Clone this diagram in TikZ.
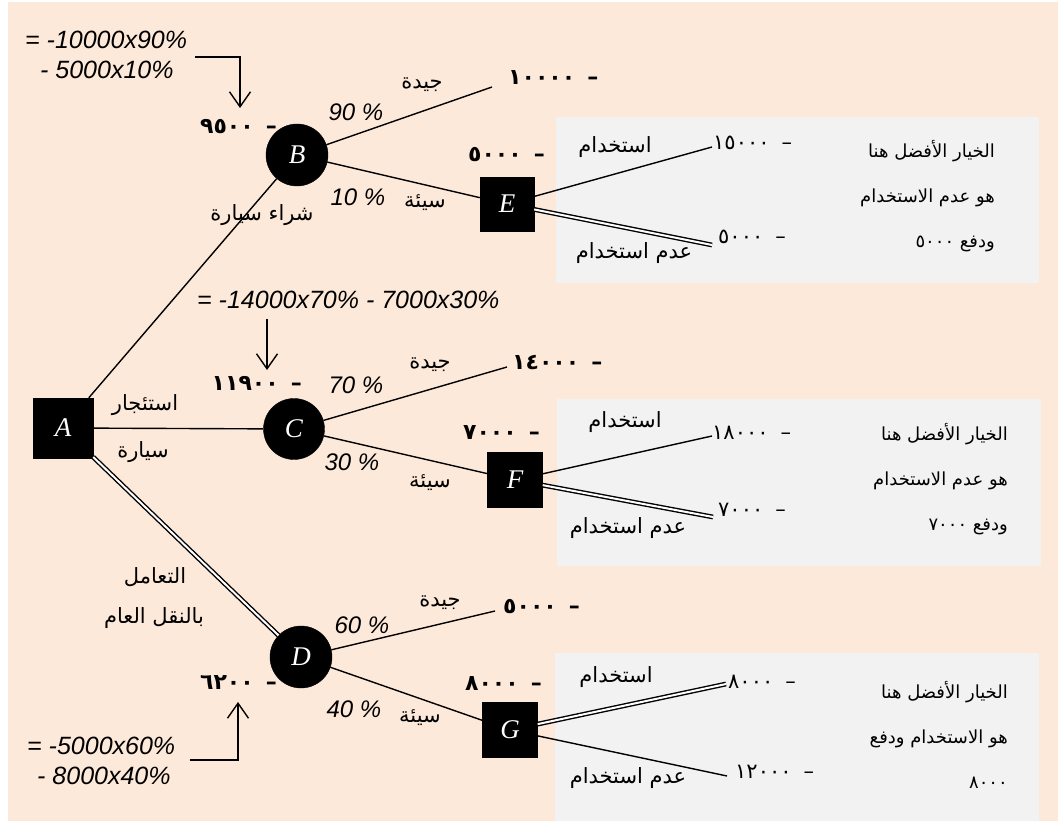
\documentclass[tikz,border=0pt]{standalone}
\usepackage{fontspec}
\setmainfont{Liberation Sans}
\newfontfamily\arabicfont[Script=Arabic]{DejaVu Sans}
\newfontfamily\letterfont{Liberation Serif}
\TeXXeTstate=1
\usetikzlibrary{arrows.meta}
\definecolor{peachbg}{HTML}{FDE9DA}
\definecolor{boxgrey}{HTML}{F2F2F2}
\newcommand{\arb}[1]{\beginR #1\endR}

\begin{document}
\begin{tikzpicture}[x=1pt,y=-1pt,
  dec/.style={draw=black,fill=black,minimum size=#1,inner sep=0pt,text=white,
              font=\letterfont\itshape\fontsize{27}{30}\selectfont},
  chance/.style={circle,draw=black,fill=black,minimum size=#1,inner sep=0pt,text=white,
              font=\letterfont\itshape\fontsize{27}{30}\selectfont},
  branch/.style={line width=1.4pt},
  best/.style={double,double distance=2pt,line width=1.4pt},
  pointer/.style={line width=1.4pt,-{Straight Barb[length=15pt,width=21pt]}},
  lab/.style={font=\arabicfont\fontsize{21}{24}\selectfont,inner sep=0pt},
  pct/.style={font=\itshape\fontsize{24}{28}\selectfont,inner sep=0pt},
  formula/.style={font=\itshape\fontsize{25}{30}\selectfont,inner sep=0pt,align=left},
  val/.style={font=\arabicfont\bfseries\fontsize{22}{24}\selectfont,inner sep=0pt},
  leaf/.style={font=\arabicfont\fontsize{21}{24}\selectfont,inner sep=0pt},
  advice/.style={font=\arabicfont\fontsize{18}{45}\selectfont,inner sep=0pt,align=right,anchor=east},
]
\useasboundingbox (0,0) rectangle (1058,821);
\fill[peachbg] (8,2) rectangle (1058,821);
\fill[boxgrey] (556,117) rectangle (1039,283);
\fill[boxgrey] (557,399) rectangle (1041,566);
\fill[boxgrey] (555,653) rectangle (1039,821);

% nodes of the tree
\node[dec=60pt] (A) at (63,428) {A};
\node[chance=62pt] (B) at (297,155) {B};
\node[chance=61pt] (C) at (294,429) {C};
\node[chance=62pt] (D) at (301,657) {D};
\node[dec=54pt] (E) at (507,204) {E};
\node[dec=55pt] (F) at (515,480) {F};
\node[dec=55pt] (G) at (510,730) {G};

% free ends of the branches
\coordinate (b1) at (492,87);
\coordinate (e1) at (712,147);
\coordinate (e2) at (712,245);
\coordinate (c1) at (507,367);
\coordinate (f1) at (712,436);
\coordinate (f2) at (713,517);
\coordinate (d1) at (495,611);
\coordinate (g1) at (726,684);
\coordinate (g2) at (727,776);

\draw[branch] (A) -- (B);
\draw[branch] (A) -- (C);
\draw[best] (A) -- (D);
\draw[branch] (B) -- (b1);
\draw[branch] (B) -- (E);
\draw[branch] (E) -- (e1);
\draw[best] (E) -- (e2);
\draw[branch] (C) -- (c1);
\draw[branch] (C) -- (F);
\draw[branch] (F) -- (f1);
\draw[best] (F) -- (f2);
\draw[branch] (D) -- (d1);
\draw[branch] (D) -- (G);
\draw[best] (G) -- (g1);
\draw[branch] (G) -- (g2);

% labels on the branches
\node[lab] (lbuy) at (262,215) {\arb{شراء سيارة}};
\node[lab] (lrent1) at (145,405) {\arb{استئجار}};
\node[lab] (lrent2) at (143,452) {\arb{سيارة}};
\node[lab] (lbus1) at (155,577) {\arb{التعامل}};
\node[lab] (lbus2) at (154,618) {\arb{بالنقل العام}};

\node[pct] (pb1) at (356,112) {90 \%};
\node[pct] (pb2) at (358,197) {10 \%};
\node[pct] (pc1) at (356,385) {70 \%};
\node[pct] (pc2) at (352,462) {30 \%};
\node[pct] (pd1) at (362,625) {60 \%};
\node[pct] (pd2) at (354,709) {40 \%};

\node[lab] (gb) at (422,85) {\arb{جيدة}};
\node[lab] (sb) at (425,203) {\arb{سيئة}};
\node[lab] (gc) at (430,365) {\arb{جيدة}};
\node[lab] (sc) at (430,483) {\arb{سيئة}};
\node[lab] (gd) at (440,603) {\arb{جيدة}};
\node[lab] (sd) at (420,718) {\arb{سيئة}};

\node[lab] (ue) at (615,147) {\arb{استخدام}};
\node[lab] (ne) at (634,253) {\arb{عدم استخدام}};
\node[lab] (uf) at (625,422) {\arb{استخدام}};
\node[lab] (nf) at (628,528) {\arb{عدم استخدام}};
\node[lab] (ug) at (616,677) {\arb{استخدام}};
\node[lab] (ng) at (628,778) {\arb{عدم استخدام}};

% values
\node[val,anchor=east] (vb) at (277,127) {٩٥٠٠\hspace{12pt}–};
\node[val,anchor=west] (vb1) at (508,78) {١٠٠٠٠\hspace{12pt}–};
\node[val,anchor=east] (ve) at (545,155) {٥٠٠٠\hspace{12pt}–};
\node[leaf,anchor=west] (ve1) at (713,143) {١٥٠٠٠\hspace{12pt}–};
\node[leaf,anchor=west] (ve2) at (718,237) {٥٠٠٠\hspace{12pt}–};
\node[val,anchor=east] (vc) at (302,383) {١١٩٠٠\hspace{12pt}–};
\node[val,anchor=west] (vc1) at (512,363) {١٤٠٠٠\hspace{12pt}–};
\node[val,anchor=east] (vf) at (540,433) {٧٠٠٠\hspace{12pt}–};
\node[leaf,anchor=west] (vf1) at (712,433) {١٨٠٠٠\hspace{12pt}–};
\node[leaf,anchor=west] (vf2) at (718,510) {٧٠٠٠\hspace{12pt}–};
\node[val,anchor=east] (vd) at (277,683) {٦٢٠٠\hspace{12pt}–};
\node[val,anchor=west] (vd1) at (503,607) {٥٠٠٠\hspace{12pt}–};
\node[val,anchor=east] (vg) at (542,684) {٨٠٠٠\hspace{12pt}–};
\node[leaf,anchor=west] (vg1) at (728,682) {٨٠٠٠\hspace{12pt}–};
\node[leaf,anchor=west] (vg2) at (735,772) {١٢٠٠٠\hspace{12pt}–};

% the advice in the grey boxes
\node[advice] (adve) at (995,196) {\arb{الخيار الأفضل هنا}\\\arb{هو عدم الاستخدام}\\\arb{ودفع ٥٠٠٠}};
\node[advice] (advf) at (1008,479) {\arb{الخيار الأفضل هنا}\\\arb{هو عدم الاستخدام}\\\arb{ودفع ٧٠٠٠}};
\node[advice] (advg) at (1008,735) {\arb{الخيار الأفضل هنا}\\\arb{هو الاستخدام ودفع}\\\arb{٨٠٠٠}};

% expected values
\node[formula,anchor=west] (fb) at (25,55) {= -10000x90\%\\\hspace*{15pt}- 5000x10\%};
\node[formula,anchor=west] (fc) at (197,300) {= -14000x70\% - 7000x30\%};
\node[formula,anchor=west] (fd) at (27,761) {= -5000x60\%\\\hspace*{10pt}- 8000x40\%};
\coordinate (fbout) at (195,57);
\coordinate (fbtip) at (240,108);
\coordinate (fcout) at (267,319);
\coordinate (fctip) at (267,370);
\coordinate (fdout) at (190,760);
\coordinate (fdtip) at (238,702);
\draw[pointer] (fbout) -| (fbtip);
\draw[pointer] (fcout) -- (fctip);
\draw[pointer] (fdout) -| (fdtip);
\end{tikzpicture}
\end{document}
